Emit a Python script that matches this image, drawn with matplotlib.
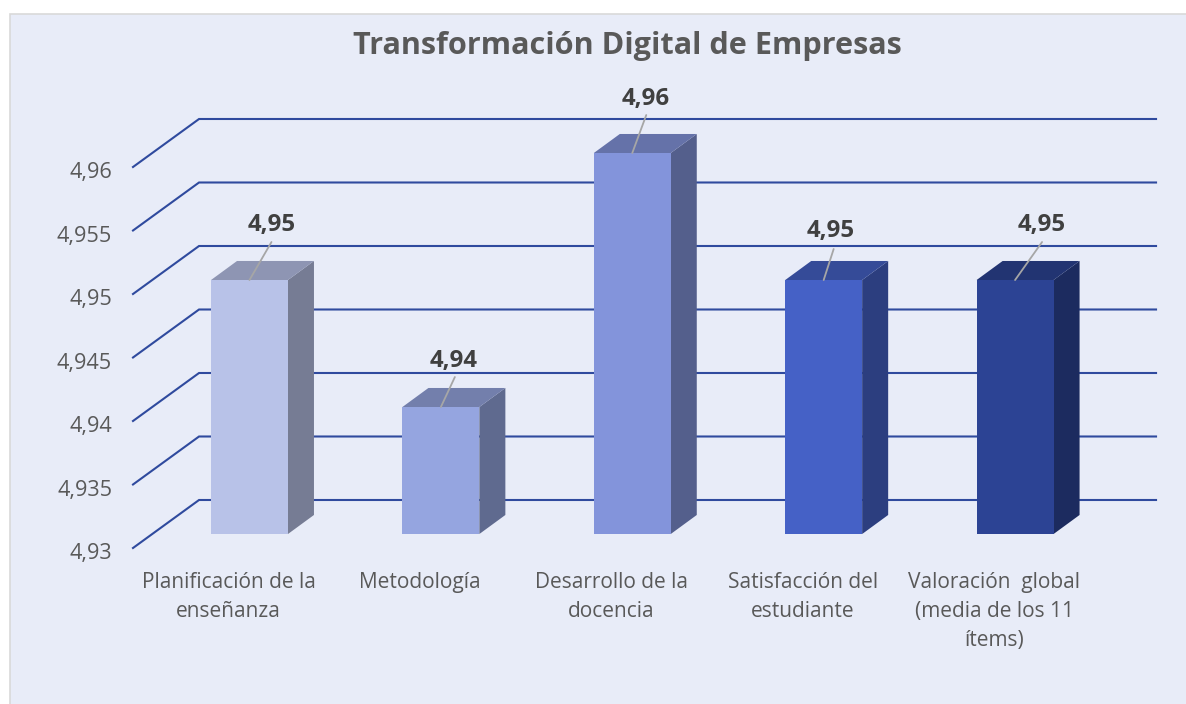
from matplotlib import pyplot as plt
from matplotlib.patches import Polygon, Rectangle
from matplotlib.transforms import ScaledTranslation
import matplotlib as mpl
import numpy as np

categories = ['Planificación de la\nenseñanza',
              'Metodología',
              'Desarrollo de la\ndocencia',
              'Satisfacción del\nestudiante',
              'Valoración  global\n(media de los 11\nítems)']
values = [4.95, 4.94, 4.96, 4.95, 4.95]
value_labels = ['4,95', '4,94', '4,96', '4,95', '4,95']
y_ticks = [4.93, 4.935, 4.94, 4.945, 4.95, 4.955, 4.96]
y_tick_labels = ['4,93', '4,935', '4,94', '4,945', '4,95', '4,955', '4,96']
bar_colors = ['#B8C2E8', '#95A5E0', '#8394DB', '#4561C6', '#2C4394']

# Leader line ends and label centres, pixels away from the bar's front top edge
leader_ends = [(22, 38), (14, 30), (14, 38), (10, 31), (27, 38)]
label_offsets = [(22, 55), (13, 46), (13, 54), (7, 49), (27, 55)]

WIDTH, HEIGHT = 1186, 704
# Depth of the 3D box, in axis units (x: categories, y: value)
WALL_DX = 0.345
WALL_DY = 0.00378
BAR_X = 0.4075
BAR_Y = 0.0011
BAR_W = 0.402
BAR_DX = 0.136
BAR_DY = 0.0015

mpl.rc('font', family='Open Sans')


def shade(color, factor):
    return tuple(c * factor for c in mpl.colors.to_rgb(color))


fig = plt.figure(figsize=(WIDTH / 100, HEIGHT / 100), dpi=100, facecolor='white')
fig.add_artist(Rectangle((10 / WIDTH, -0.01), 1.01, (HEIGHT - 14) / HEIGHT + 0.01,
                         transform=fig.transFigure, facecolor='#E8ECF8',
                         edgecolor='#D9D9D9', linewidth=1.2, zorder=-1))

ax = fig.add_axes([133 / WIDTH, (HEIGHT - 548) / HEIGHT, 957 / WIDTH, 381 / HEIGHT])
ax.patch.set_visible(False)
ax.set_xlim(0, len(values))
ax.set_ylim(y_ticks[0], y_ticks[-1])
for spine in ax.spines.values():
    spine.set_visible(False)

ax.set_yticks(y_ticks, y_tick_labels)
ax.set_xticks(np.arange(len(values)) + 0.5, categories)
ax.tick_params(axis='y', length=0, pad=15, labelsize=15.6, labelcolor='#595959')
ax.tick_params(axis='x', length=0, pad=17.5, labelsize=15, labelcolor='#595959')
for label in ax.get_xticklabels():
    label.set_linespacing(1.49)
    label.set_verticalalignment('top')
# The value labels sit a little under their wall line
down = ScaledTranslation(0, -3 / 100, fig.dpi_scale_trans)
for label in ax.get_yticklabels():
    label.set_transform(label.get_transform() + down)

# Floor and wall lines
for tick in y_ticks:
    ax.plot([0, WALL_DX, len(values) + WALL_DX],
            [tick, tick + WALL_DY, tick + WALL_DY],
            color='#2F4A9E', linewidth=1.5, clip_on=False, zorder=1,
            solid_joinstyle='miter')

base = y_ticks[0] + BAR_Y
for i, value in enumerate(values):
    x0 = i + BAR_X
    x1 = x0 + BAR_W
    color = bar_colors[i]
    y1 = value + BAR_Y
    front = [(x0, base), (x1, base), (x1, y1), (x0, y1)]
    top = [(x0, y1), (x1, y1), (x1 + BAR_DX, y1 + BAR_DY), (x0 + BAR_DX, y1 + BAR_DY)]
    side = [(x1, base), (x1 + BAR_DX, base + BAR_DY), (x1 + BAR_DX, y1 + BAR_DY), (x1, y1)]
    ax.add_patch(Polygon(side, facecolor=shade(color, 0.64), edgecolor='none', clip_on=False, zorder=2))
    ax.add_patch(Polygon(top, facecolor=shade(color, 0.77), edgecolor='none', clip_on=False, zorder=2))
    ax.add_patch(Polygon(front, facecolor=color, edgecolor='none', clip_on=False, zorder=2))

    anchor = (x0 + BAR_W / 2, y1)
    ax.annotate('', xy=anchor, xycoords='data',
                xytext=(leader_ends[i][0] * 0.72, leader_ends[i][1] * 0.72),
                textcoords='offset points', annotation_clip=False,
                arrowprops=dict(arrowstyle='-', color='#A6A6A6', linewidth=1.3,
                                shrinkA=0, shrinkB=0), zorder=3)
    ax.annotate(value_labels[i], xy=anchor, xycoords='data',
                xytext=(label_offsets[i][0] * 0.72, label_offsets[i][1] * 0.72),
                textcoords='offset points', ha='center', va='center',
                fontsize=17.3, fontweight='bold', color='#404040', zorder=4,
                annotation_clip=False)

fig.text(627 / WIDTH, 1 - 46 / HEIGHT, 'Transformación Digital de Empresas',
         ha='center', va='center', fontsize=22.1, fontweight='bold', color='#595959')

fig.savefig('out.png', dpi=100)
